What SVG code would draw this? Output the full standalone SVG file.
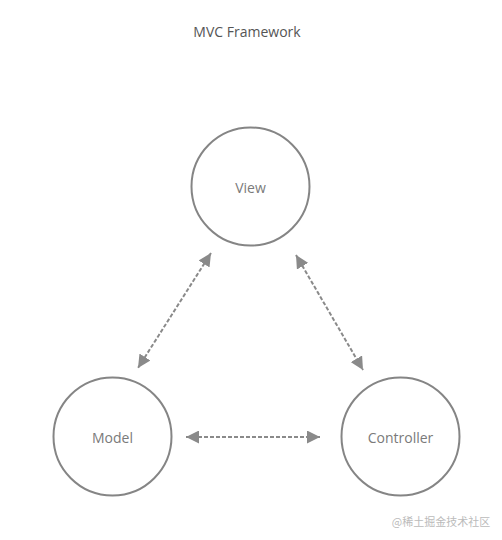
<svg xmlns="http://www.w3.org/2000/svg" width="502" height="540" viewBox="0 0 502 540">
<style>
.node circle{fill:#fff;stroke:#858585;stroke-width:2}
.node text{font-family:"Open Sans","Liberation Sans",sans-serif;font-size:14px;fill:#7a7a7a;text-anchor:middle;dominant-baseline:central}
.conn line{stroke:#8a8a8a;stroke-width:2;stroke-dasharray:4 2;marker-start:url(#ah);marker-end:url(#ah)}
</style>
<defs>
<marker id="ah" viewBox="0 0 10 10" refX="10" refY="5" markerWidth="13" markerHeight="13" markerUnits="userSpaceOnUse" orient="auto-start-reverse">
<path d="M0,0 L10,5 L0,10 z" fill="#8a8a8a"/>
</marker>
</defs>
<rect width="502" height="540" fill="#fff"/>
<text x="247" y="31" font-family="'Open Sans','Liberation Sans',sans-serif" font-size="14" fill="#555" text-anchor="middle" dominant-baseline="central">MVC Framework</text>
<g class="conn" id="connectors">
<line x1="211" y1="253" x2="138" y2="368"/>
<line x1="296" y1="255" x2="363" y2="370"/>
<line x1="186" y1="437" x2="320" y2="437"/>
</g>
<g class="node" id="view"><circle cx="250.5" cy="186.5" r="59"/><text x="250.5" y="187">View</text></g>
<g class="node" id="model"><circle cx="112.5" cy="436.5" r="59"/><text x="112.5" y="437">Model</text></g>
<g class="node" id="controller"><circle cx="400.5" cy="436.5" r="59"/><text x="400.5" y="437">Controller</text></g>
<text x="441" y="521" font-family="'Noto Sans CJK SC',sans-serif" font-size="11" fill="#bbb" text-anchor="middle" dominant-baseline="central">@稀土掘金技术社区</text>
</svg>
